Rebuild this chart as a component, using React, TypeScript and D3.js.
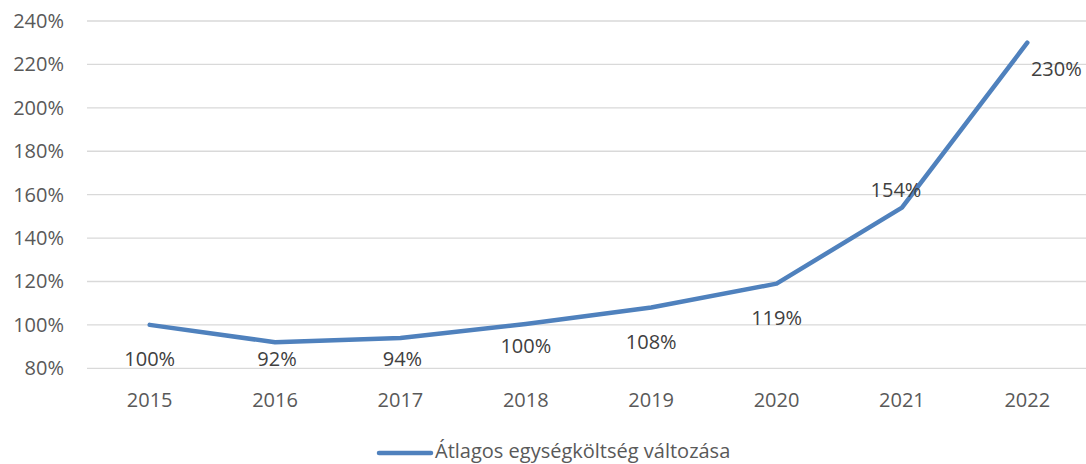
import React, { useRef, useEffect } from 'react'
import * as d3 from 'd3'

const years = ['2015', '2016', '2017', '2018', '2019', '2020', '2021', '2022']
const costChange = [100, 92, 94, 100.4, 108, 119, 154, 230]
const yTicks = [80, 100, 120, 140, 160, 180, 200, 220, 240]
const seriesName = 'Átlagos egységköltség változása'

// label nudges (label centre relative to the point), as placed in the original
const labelShift = [
    [0, 34], [2, 17], [2, 21], [0, 22], [0, 34], [0, 34], [-6, -18], [29, 26],
]

const W = 1086
const H = 464
const FONT = '"Open Sans", sans-serif'
const FS = '20px'

const App = () => {
    const svgRef = useRef<SVGSVGElement>(null)

    useEffect(() => {
        const svg = d3.select(svgRef.current)
        svg.selectAll('*').remove()

        const margin = { top: 21, right: -4, bottom: 96, left: 87 }

        const x = d3
            .scaleBand()
            .domain(years)
            .range([margin.left, W - margin.right])

        const y = d3
            .scaleLinear()
            .domain([80, 240])
            .range([H - margin.bottom + 0.3, margin.top])

        const cx = (d: string) => (x(d) as number) + x.bandwidth() / 2

        //gridlines
        svg.append('g')
            .selectAll('line')
            .data(yTicks)
            .join('line')
            .attr('x1', margin.left)
            .attr('x2', W)
            .attr('y1', (d) => y(d))
            .attr('y2', (d) => y(d))
            .attr('stroke', '#d9d9d9')
            .attr('stroke-width', 1.3)

        //y labels
        svg.append('g')
            .selectAll('text')
            .data(yTicks)
            .join('text')
            .attr('x', 64)
            .attr('y', (d) => y(d))
            .attr('dy', '0.35em')
            .attr('text-anchor', 'end')
            .style('font-family', FONT)
            .style('font-size', FS)
            .attr('fill', '#595959')
            .text((d) => `${d}%`)

        //x labels
        svg.append('g')
            .selectAll('text')
            .data(years)
            .join('text')
            .attr('x', (d) => cx(d))
            .attr('y', 407)
            .attr('text-anchor', 'middle')
            .style('font-family', FONT)
            .style('font-size', FS)
            .attr('fill', '#595959')
            .text((d) => d)

        //line
        const line = d3
            .line<number>()
            .x((_, i) => cx(years[i]))
            .y((d) => y(d))

        svg.append('path')
            .datum(costChange)
            .attr('fill', 'none')
            .attr('stroke', '#4f81bd')
            .attr('stroke-width', 4.5)
            .attr('stroke-linecap', 'round')
            .attr('stroke-linejoin', 'round')
            .attr('d', line)

        //data labels
        svg.append('g')
            .selectAll('text')
            .data(costChange)
            .join('text')
            .attr('x', (d, i) => cx(years[i]) + labelShift[i][0])
            .attr('y', (d, i) => y(d) + labelShift[i][1])
            .attr('dy', '0.35em')
            .attr('text-anchor', 'middle')
            .style('font-family', FONT)
            .style('font-size', FS)
            .attr('fill', '#404040')
            .text((d) => `${Math.round(d)}%`)

        //legend
        const lg = svg.append('g')
        lg.append('line')
            .attr('x1', 379)
            .attr('x2', 431)
            .attr('y1', 453)
            .attr('y2', 453)
            .attr('stroke', '#4f81bd')
            .attr('stroke-width', 4.5)
            .attr('stroke-linecap', 'round')
        lg.append('text')
            .attr('x', 435)
            .attr('y', 451)
            .attr('dy', '0.35em')
            .style('font-family', FONT)
            .style('font-size', FS)
            .attr('fill', '#595959')
            .text(seriesName)
    }, [])

    return (
        <svg
            ref={svgRef}
            width={W}
            height={H}
            style={{ position: 'absolute', left: 0, top: 0, background: '#fff' }}
        />
    )
}

export default App
